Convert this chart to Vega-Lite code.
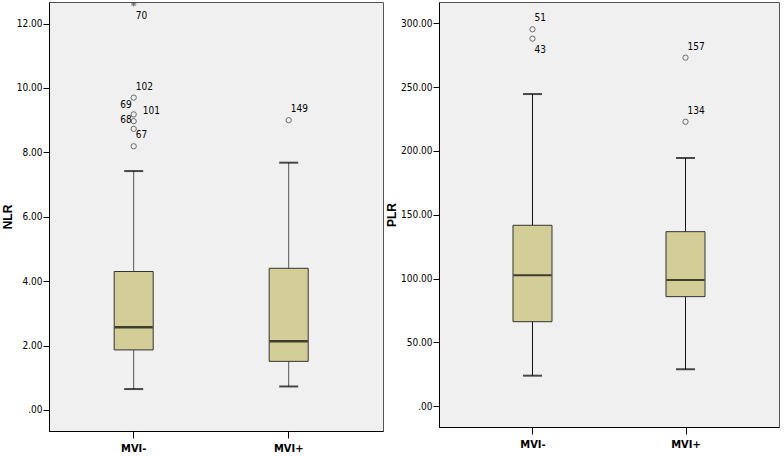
{
  "$schema": "https://vega.github.io/schema/vega-lite/v6.json",
  "background": "white",
  "padding": {"left": 0, "top": 1, "right": 4, "bottom": 0},
  "spacing": 56,
  "bounds": "flush",
  "config": {
    "view": {"fill": "#F0F0F0", "stroke": "#555", "strokeWidth": 1},
    "font": "DejaVu Sans Condensed, sans-serif",
    "axis": {"domainColor": "#000", "tickColor": "#000", "labelColor": "#000", "grid": false, "domainWidth": 1, "tickWidth": 1,
      "labelFont": "DejaVu Sans Condensed, sans-serif", "labelFontSize": 10},
    "axisY": {"tickSize": 6, "labelPadding": 1, "titleFont": "Liberation Sans, Arial, sans-serif", "titleFontSize": 12, "titleFontWeight": "bold", "titlePadding": 2, "titleColor": "#000"},
    "axisX": {"tickSize": 7, "labelPadding": 4, "labelFontSize": 11, "labelFontWeight": "bold", "labelAngle": 0}
  },
  "datasets": {
    "boxes": [
      {"measure": "NLR", "group": "MVI-", "lo": 0.65, "q1": 1.865, "median": 2.57, "q3": 4.30, "hi": 7.42},
      {"measure": "NLR", "group": "MVI+", "lo": 0.73, "q1": 1.51, "median": 2.135, "q3": 4.40, "hi": 7.68},
      {"measure": "PLR", "group": "MVI-", "lo": 24.0, "q1": 66.3, "median": 102.6, "q3": 141.8, "hi": 244.6},
      {"measure": "PLR", "group": "MVI+", "lo": 29.0, "q1": 85.9, "median": 98.9, "q3": 136.8, "hi": 194.5}
    ],
    "outliers": [
      {"measure": "NLR", "group": "MVI-", "id": "70", "value": 12.61, "kind": "extreme", "place": "br"},
      {"measure": "NLR", "group": "MVI-", "id": "102", "value": 9.70, "kind": "outlier", "place": "ar"},
      {"measure": "NLR", "group": "MVI-", "id": "69", "value": 9.18, "kind": "outlier", "place": "al"},
      {"measure": "NLR", "group": "MVI-", "id": "101", "value": 8.97, "kind": "outlier", "place": "arf"},
      {"measure": "NLR", "group": "MVI-", "id": "68", "value": 8.73, "kind": "outlier", "place": "al"},
      {"measure": "NLR", "group": "MVI-", "id": "67", "value": 8.19, "kind": "outlier", "place": "ar"},
      {"measure": "NLR", "group": "MVI+", "id": "149", "value": 9.00, "kind": "outlier", "place": "ar"},
      {"measure": "PLR", "group": "MVI-", "id": "51", "value": 295.3, "kind": "outlier", "place": "ar"},
      {"measure": "PLR", "group": "MVI-", "id": "43", "value": 288.0, "kind": "outlier", "place": "br"},
      {"measure": "PLR", "group": "MVI+", "id": "157", "value": 273.1, "kind": "outlier", "place": "ar"},
      {"measure": "PLR", "group": "MVI+", "id": "134", "value": 222.9, "kind": "outlier", "place": "ar"}
    ]
  },
  "hconcat": [
    {
      "width": 334, "height": 429,
      "encoding": {
        "x": {"field": "group", "type": "nominal", "title": null, "scale": {"type": "band", "paddingInner": 0, "paddingOuter": 0.0774, "align": 0.30, "domain": ["MVI-", "MVI+"]}}
      },
      "layer": [
        {"data": {"name": "boxes"}, "transform": [{"filter": "datum.measure == 'NLR'"}],
          "mark": {"type": "rule", "color": "#555", "strokeWidth": 1},
          "encoding": {"y": {"field": "lo", "type": "quantitative", "title": "NLR", "scale": {"domain": [-0.653, 12.67], "nice": false, "zero": false},
            "axis": {"values": [0, 2, 4, 6, 8, 10, 12], "labelExpr": "datum.value == 0 ? '.00' : format(datum.value, '.2f')"}},
            "y2": {"field": "hi"}}},
        {"data": {"name": "boxes"}, "transform": [{"filter": "datum.measure == 'NLR'"}],
          "mark": {"type": "tick", "color": "#000", "size": 19, "thickness": 2},
          "encoding": {"y": {"field": "lo", "type": "quantitative", "title": "NLR"}}},
        {"data": {"name": "boxes"}, "transform": [{"filter": "datum.measure == 'NLR'"}],
          "mark": {"type": "tick", "color": "#000", "size": 19, "thickness": 2},
          "encoding": {"y": {"field": "hi", "type": "quantitative", "title": "NLR"}}},
        {"data": {"name": "boxes"}, "transform": [{"filter": "datum.measure == 'NLR'"}],
          "mark": {"type": "bar", "size": 39, "fill": "#D3CE97", "stroke": "#333", "strokeWidth": 1},
          "encoding": {"y": {"field": "q1", "type": "quantitative", "title": "NLR"}, "y2": {"field": "q3"}}},
        {"data": {"name": "boxes"}, "transform": [{"filter": "datum.measure == 'NLR'"}],
          "mark": {"type": "tick", "color": "#000", "size": 38, "thickness": 2.5},
          "encoding": {"y": {"field": "median", "type": "quantitative", "title": "NLR"}}},
        {"data": {"name": "outliers"}, "transform": [{"filter": "datum.measure == 'NLR' && datum.kind == 'outlier'"}],
          "mark": {"type": "point", "shape": "circle", "filled": false, "size": 28, "stroke": "#333", "strokeWidth": 1},
          "encoding": {"y": {"field": "value", "type": "quantitative", "title": "NLR"}}},
        {"data": {"name": "outliers"}, "transform": [{"filter": "datum.measure == 'NLR' && datum.kind == 'extreme'"}],
          "mark": {"type": "point", "clip": true, "shape": "M-1,0L1,0M0,-1L0,1M-0.7,-0.7L0.7,0.7M-0.7,0.7L0.7,-0.7", "filled": false, "size": 28, "stroke": "#333", "strokeWidth": 1},
          "encoding": {"y": {"field": "value", "type": "quantitative", "title": "NLR"}}},
        {"data": {"name": "outliers"}, "transform": [{"filter": "datum.measure == 'NLR' && datum.place == 'ar'"}],
          "mark": {"type": "text", "align": "left", "baseline": "middle", "dx": 2, "dy": -11, "fontSize": 10, "color": "#000"},
          "encoding": {"y": {"field": "value", "type": "quantitative", "title": "NLR"}, "text": {"field": "id"}}},
        {"data": {"name": "outliers"}, "transform": [{"filter": "datum.measure == 'NLR' && datum.place == 'arf'"}],
          "mark": {"type": "text", "align": "left", "baseline": "middle", "dx": 9, "dy": -10, "fontSize": 10, "color": "#000"},
          "encoding": {"y": {"field": "value", "type": "quantitative", "title": "NLR"}, "text": {"field": "id"}}},
        {"data": {"name": "outliers"}, "transform": [{"filter": "datum.measure == 'NLR' && datum.place == 'al'"}],
          "mark": {"type": "text", "align": "right", "baseline": "middle", "dx": -2, "dy": -9, "fontSize": 10, "color": "#000"},
          "encoding": {"y": {"field": "value", "type": "quantitative", "title": "NLR"}, "text": {"field": "id"}}},
        {"data": {"name": "outliers"}, "transform": [{"filter": "datum.measure == 'NLR' && datum.place == 'br'"}],
          "mark": {"type": "text", "align": "left", "baseline": "middle", "dx": 2, "dy": 12, "fontSize": 10, "color": "#000"},
          "encoding": {"y": {"field": "value", "type": "quantitative", "title": "NLR"}, "text": {"field": "id"}}}
      ]
    },
    {
      "width": 340, "height": 425,
      "encoding": {
        "x": {"field": "group", "type": "nominal", "title": null, "scale": {"type": "point", "padding": 0.611, "domain": ["MVI-", "MVI+"]}}
      },
      "layer": [
        {"data": {"name": "boxes"}, "transform": [{"filter": "datum.measure == 'PLR'"}],
          "mark": {"type": "rule", "color": "#111", "strokeWidth": 1},
          "encoding": {"y": {"field": "lo", "type": "quantitative", "title": "PLR", "scale": {"domain": [-16.2, 316.7], "nice": false, "zero": false},
            "axis": {"values": [0, 50, 100, 150, 200, 250, 300], "labelExpr": "datum.value == 0 ? '.00' : format(datum.value, '.2f')"}},
            "y2": {"field": "hi"}}},
        {"data": {"name": "boxes"}, "transform": [{"filter": "datum.measure == 'PLR'"}],
          "mark": {"type": "tick", "color": "#000", "size": 19, "thickness": 2},
          "encoding": {"y": {"field": "lo", "type": "quantitative", "title": "PLR"}}},
        {"data": {"name": "boxes"}, "transform": [{"filter": "datum.measure == 'PLR'"}],
          "mark": {"type": "tick", "color": "#000", "size": 19, "thickness": 2},
          "encoding": {"y": {"field": "hi", "type": "quantitative", "title": "PLR"}}},
        {"data": {"name": "boxes"}, "transform": [{"filter": "datum.measure == 'PLR'"}],
          "mark": {"type": "bar", "size": 39, "fill": "#D3CE97", "stroke": "#333", "strokeWidth": 1},
          "encoding": {"y": {"field": "q1", "type": "quantitative", "title": "PLR"}, "y2": {"field": "q3"}}},
        {"data": {"name": "boxes"}, "transform": [{"filter": "datum.measure == 'PLR'"}],
          "mark": {"type": "tick", "color": "#000", "size": 38, "thickness": 2},
          "encoding": {"y": {"field": "median", "type": "quantitative", "title": "PLR"}}},
        {"data": {"name": "outliers"}, "transform": [{"filter": "datum.measure == 'PLR' && datum.kind == 'outlier'"}],
          "mark": {"type": "point", "shape": "circle", "filled": false, "size": 28, "stroke": "#333", "strokeWidth": 1},
          "encoding": {"y": {"field": "value", "type": "quantitative", "title": "PLR"}}},
        {"data": {"name": "outliers"}, "transform": [{"filter": "datum.measure == 'PLR' && datum.place == 'ar'"}],
          "mark": {"type": "text", "align": "left", "baseline": "middle", "dx": 2, "dy": -11, "fontSize": 10, "color": "#000"},
          "encoding": {"y": {"field": "value", "type": "quantitative", "title": "PLR"}, "text": {"field": "id"}}},
        {"data": {"name": "outliers"}, "transform": [{"filter": "datum.measure == 'PLR' && datum.place == 'br'"}],
          "mark": {"type": "text", "align": "left", "baseline": "middle", "dx": 2, "dy": 11, "fontSize": 10, "color": "#000"},
          "encoding": {"y": {"field": "value", "type": "quantitative", "title": "PLR"}, "text": {"field": "id"}}}
      ]
    }
  ]
}
